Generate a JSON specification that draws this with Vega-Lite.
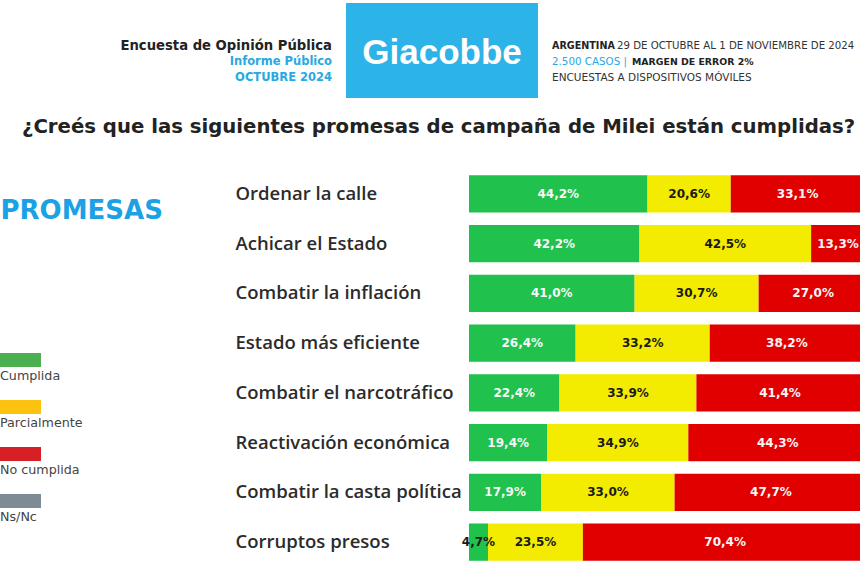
{
  "$schema": "https://vega.github.io/schema/vega-lite/v6.json",
  "autosize": "none",
  "width": 391,
  "height": 398,
  "padding": {"left": 469, "top": 169, "right": 0, "bottom": 3},
  "background": "#ffffff",
  "title": {
    "text": "¿Creés que las siguientes promesas de campaña de Milei están cumplidas?",
    "anchor": "start",
    "frame": "group",
    "dx": -447,
    "offset": -150,
    "baseline": "alphabetic",
    "font": "DejaVu Sans",
    "fontSize": 19.7,
    "fontWeight": "bold",
    "color": "#222222"
  },
  "datasets": {
    "encuesta": [
      {"promesa": "Ordenar la calle", "estado": "Cumplida", "pct": 44.2},
      {"promesa": "Ordenar la calle", "estado": "Parcialmente", "pct": 20.6},
      {"promesa": "Ordenar la calle", "estado": "No cumplida", "pct": 33.1},
      {"promesa": "Achicar el Estado", "estado": "Cumplida", "pct": 42.2},
      {"promesa": "Achicar el Estado", "estado": "Parcialmente", "pct": 42.5},
      {"promesa": "Achicar el Estado", "estado": "No cumplida", "pct": 13.3},
      {"promesa": "Combatir la inflación", "estado": "Cumplida", "pct": 41.0},
      {"promesa": "Combatir la inflación", "estado": "Parcialmente", "pct": 30.7},
      {"promesa": "Combatir la inflación", "estado": "No cumplida", "pct": 27.0},
      {"promesa": "Estado más eficiente", "estado": "Cumplida", "pct": 26.4},
      {"promesa": "Estado más eficiente", "estado": "Parcialmente", "pct": 33.2},
      {"promesa": "Estado más eficiente", "estado": "No cumplida", "pct": 38.2},
      {"promesa": "Combatir el narcotráfico", "estado": "Cumplida", "pct": 22.4},
      {"promesa": "Combatir el narcotráfico", "estado": "Parcialmente", "pct": 33.9},
      {"promesa": "Combatir el narcotráfico", "estado": "No cumplida", "pct": 41.4},
      {"promesa": "Reactivación económica", "estado": "Cumplida", "pct": 19.4},
      {"promesa": "Reactivación económica", "estado": "Parcialmente", "pct": 34.9},
      {"promesa": "Reactivación económica", "estado": "No cumplida", "pct": 44.3},
      {"promesa": "Combatir la casta política", "estado": "Cumplida", "pct": 17.9},
      {"promesa": "Combatir la casta política", "estado": "Parcialmente", "pct": 33.0},
      {"promesa": "Combatir la casta política", "estado": "No cumplida", "pct": 47.7},
      {"promesa": "Corruptos presos", "estado": "Cumplida", "pct": 4.7},
      {"promesa": "Corruptos presos", "estado": "Parcialmente", "pct": 23.5},
      {"promesa": "Corruptos presos", "estado": "No cumplida", "pct": 70.4}
    ],
    "cabecera": [
      {"pieza": "logo", "col": "G", "line": 0, "text": "Giacobbe"},
      {"pieza": "enc", "col": "L", "line": 1, "text": "Encuesta de Opinión Pública"},
      {"pieza": "inf", "col": "L", "line": 2, "text": "Informe Público"},
      {"pieza": "inf", "col": "L", "line": 3, "text": "OCTUBRE 2024"},
      {"pieza": "arg", "col": "R", "line": 1, "text": "ARGENTINA"},
      {"pieza": "fecha", "col": "R", "line": 1, "text": "29 DE OCTUBRE AL 1 DE NOVIEMBRE DE 2024"},
      {"pieza": "casos", "col": "R", "line": 2, "text": "2.500 CASOS |"},
      {"pieza": "margen", "col": "R", "line": 2, "text": "MARGEN DE ERROR 2%"},
      {"pieza": "disp", "col": "R", "line": 3, "text": "ENCUESTAS A DISPOSITIVOS MÓVILES"}
    ]
  },
  "layer": [
    {
      "data": {"name": "encuesta"},
      "transform": [{"calculate": "indexof(['Cumplida', 'Parcialmente', 'No cumplida'], datum.estado)", "as": "orden"}],
      "encoding": {
        "y": {
          "field": "promesa",
          "type": "nominal",
          "sort": null,
          "scale": {"paddingInner": 0.25, "paddingOuter": 0.125},
          "axis": {
            "title": "PROMESAS",
            "titleAngle": 0,
            "titleAlign": "left",
            "titleBaseline": "middle",
            "titleX": -469,
            "titleY": 41,
            "titleFont": "DejaVu Sans",
            "titleFontSize": 26,
            "titleFontWeight": "bold",
            "titleColor": "#1ba2e4",
            "labelAlign": "left",
            "labelPadding": 234,
            "labelFont": "Open Sans",
            "labelFontSize": 18.5,
            "labelFontWeight": 600,
            "labelColor": "#2b2b2b",
            "labelLimit": 320,
            "ticks": false,
            "domain": false,
            "grid": false
          }
        },
        "order": {"field": "orden", "type": "quantitative", "sort": "ascending"}
      },
      "layer": [
        {
          "mark": {"type": "bar", "clip": true},
          "encoding": {
            "x": {"field": "pct", "type": "quantitative", "stack": "zero", "scale": {"domain": [0, 96.8], "nice": false, "zero": true}, "axis": null},
            "color": {
              "field": "estado",
              "type": "nominal",
              "scale": {"domain": ["Cumplida", "Parcialmente", "No cumplida"], "range": ["#21c14e", "#f3eb00", "#e00000"]},
              "legend": null
            }
          }
        },
        {
          "mark": {"type": "text", "font": "DejaVu Sans", "fontSize": 12, "fontWeight": "bold", "align": "center", "baseline": "middle"},
          "transform": [{"calculate": "replace(format(datum.pct, '.1f'), '.', ',') + '%'", "as": "etiqueta"}],
          "encoding": {
            "x": {"field": "pct", "type": "quantitative", "stack": "zero", "bandPosition": 0.5, "scale": {"domain": [0, 96.8], "nice": false, "zero": true}, "axis": null},
            "text": {"field": "etiqueta", "type": "nominal"},
            "color": {
              "condition": {"test": "datum.pct < 10", "value": "#1a1a1a"},
              "field": "estado",
              "type": "nominal",
              "scale": {"domain": ["Cumplida", "Parcialmente", "No cumplida"], "range": ["#f7f7f7", "#1a1a1a", "#f7f7f7"]},
              "legend": null
            }
          }
        },
        {
          "mark": {"type": "point", "filled": true, "opacity": 0},
          "encoding": {
            "fill": {
              "field": "estado",
              "type": "nominal",
              "scale": {"domain": ["Cumplida", "Parcialmente", "No cumplida", "Ns/Nc"], "range": ["#4caf50", "#fdc210", "#d71f26", "#7d8b95"]},
              "legend": {
                "title": null,
                "orient": "none",
                "legendX": -469,
                "legendY": 197,
                "direction": "vertical",
                "padding": 0,
                "symbolType": "M-1,-2.3H3.1V-0.9H-1Z",
                "symbolSize": 400,
                "symbolOpacity": 1,
                "symbolStrokeWidth": 0,
                "labelOffset": -20,
                "labelFont": "DejaVu Sans",
                "labelFontSize": 12.7,
                "labelColor": "#444444",
                "labelLimit": 200,
                "rowPadding": 17
              }
            }
          }
        }
      ],
      "resolve": {"scale": {"color": "independent"}}
    },
    {
      "data": {"name": "cabecera"},
      "transform": [{"filter": "datum.pieza == 'logo'"}],
      "mark": {"type": "point", "filled": true, "opacity": 1, "size": 10000, "strokeWidth": 0, "shape": "M-1.92,-0.95H1.92V0.95H-1.92Z", "color": "#2cb3e8"},
      "encoding": {
        "x": {"field": "col", "type": "nominal", "scale": {"type": "point", "domain": ["L", "G", "R"], "range": [-137, 83], "padding": 0}, "axis": null},
        "y": {"field": "line", "type": "ordinal", "scale": {"type": "point", "domain": [0], "range": [-118.5, -118.5], "padding": 0}, "axis": null}
      }
    },
    {
      "data": {"name": "cabecera"},
      "transform": [{"filter": "datum.pieza == 'logo'"}],
      "mark": {"type": "text", "font": "Liberation Sans", "fontSize": 35, "fontWeight": "bold", "color": "#ffffff", "align": "center", "baseline": "middle", "dy": 2},
      "encoding": {
        "x": {"field": "col", "type": "nominal", "scale": {"type": "point", "domain": ["L", "G", "R"], "range": [-137, 83], "padding": 0}, "axis": null},
        "y": {"field": "line", "type": "ordinal", "scale": {"type": "point", "domain": [0], "range": [-118.5, -118.5], "padding": 0}, "axis": null},
        "text": {"field": "text", "type": "nominal"}
      }
    },
    {
      "data": {"name": "cabecera"},
      "transform": [{"filter": "datum.pieza == 'enc'"}],
      "mark": {"type": "text", "font": "DejaVu Sans", "fontSize": 13.2, "fontWeight": "bold", "color": "#222222", "align": "right", "baseline": "middle"},
      "encoding": {
        "x": {"field": "col", "type": "nominal", "scale": {"type": "point", "domain": ["L", "G", "R"], "range": [-137, 83], "padding": 0}, "axis": null},
        "y": {"field": "line", "type": "ordinal", "scale": {"type": "point", "domain": [1, 2, 3], "range": [-123.5, -91.5], "padding": 0}, "axis": null},
        "text": {"field": "text", "type": "nominal"}
      }
    },
    {
      "data": {"name": "cabecera"},
      "transform": [{"filter": "datum.pieza == 'inf'"}],
      "mark": {"type": "text", "font": "DejaVu Sans", "fontSize": 11.5, "fontWeight": "bold", "color": "#27a9e1", "align": "right", "baseline": "middle"},
      "encoding": {
        "x": {"field": "col", "type": "nominal", "scale": {"type": "point", "domain": ["L", "G", "R"], "range": [-137, 83], "padding": 0}, "axis": null},
        "y": {"field": "line", "type": "ordinal", "scale": {"type": "point", "domain": [1, 2, 3], "range": [-123.5, -91.5], "padding": 0}, "axis": null},
        "text": {"field": "text", "type": "nominal"}
      }
    },
    {
      "data": {"name": "cabecera"},
      "transform": [{"filter": "datum.pieza == 'arg'"}],
      "mark": {"type": "text", "font": "DejaVu Sans", "fontSize": 9.6, "fontWeight": "bold", "color": "#222222", "align": "left", "baseline": "middle"},
      "encoding": {
        "x": {"field": "col", "type": "nominal", "scale": {"type": "point", "domain": ["L", "G", "R"], "range": [-137, 83], "padding": 0}, "axis": null},
        "y": {"field": "line", "type": "ordinal", "scale": {"type": "point", "domain": [1, 2, 3], "range": [-123.5, -91.5], "padding": 0}, "axis": null},
        "text": {"field": "text", "type": "nominal"}
      }
    },
    {
      "data": {"name": "cabecera"},
      "transform": [{"filter": "datum.pieza == 'margen'"}],
      "mark": {"type": "text", "font": "DejaVu Sans", "fontSize": 9.4, "fontWeight": "bold", "color": "#222222", "align": "left", "baseline": "middle", "dx": 80},
      "encoding": {
        "x": {"field": "col", "type": "nominal", "scale": {"type": "point", "domain": ["L", "G", "R"], "range": [-137, 83], "padding": 0}, "axis": null},
        "y": {"field": "line", "type": "ordinal", "scale": {"type": "point", "domain": [1, 2, 3], "range": [-123.5, -91.5], "padding": 0}, "axis": null},
        "text": {"field": "text", "type": "nominal"}
      }
    },
    {
      "data": {"name": "cabecera"},
      "transform": [{"filter": "datum.pieza == 'fecha'"}],
      "mark": {"type": "text", "font": "DejaVu Sans", "fontSize": 10.2, "color": "#333333", "align": "left", "baseline": "middle", "dx": 65},
      "encoding": {
        "x": {"field": "col", "type": "nominal", "scale": {"type": "point", "domain": ["L", "G", "R"], "range": [-137, 83], "padding": 0}, "axis": null},
        "y": {"field": "line", "type": "ordinal", "scale": {"type": "point", "domain": [1, 2, 3], "range": [-123.5, -91.5], "padding": 0}, "axis": null},
        "text": {"field": "text", "type": "nominal"}
      }
    },
    {
      "data": {"name": "cabecera"},
      "transform": [{"filter": "datum.pieza == 'disp'"}],
      "mark": {"type": "text", "font": "DejaVu Sans", "fontSize": 10.5, "color": "#333333", "align": "left", "baseline": "middle"},
      "encoding": {
        "x": {"field": "col", "type": "nominal", "scale": {"type": "point", "domain": ["L", "G", "R"], "range": [-137, 83], "padding": 0}, "axis": null},
        "y": {"field": "line", "type": "ordinal", "scale": {"type": "point", "domain": [1, 2, 3], "range": [-123.5, -91.5], "padding": 0}, "axis": null},
        "text": {"field": "text", "type": "nominal"}
      }
    },
    {
      "data": {"name": "cabecera"},
      "transform": [{"filter": "datum.pieza == 'casos'"}],
      "mark": {"type": "text", "font": "DejaVu Sans", "fontSize": 10.3, "color": "#27a9e1", "align": "left", "baseline": "middle"},
      "encoding": {
        "x": {"field": "col", "type": "nominal", "scale": {"type": "point", "domain": ["L", "G", "R"], "range": [-137, 83], "padding": 0}, "axis": null},
        "y": {"field": "line", "type": "ordinal", "scale": {"type": "point", "domain": [1, 2, 3], "range": [-123.5, -91.5], "padding": 0}, "axis": null},
        "text": {"field": "text", "type": "nominal"}
      }
    }
  ],
  "resolve": {"scale": {"x": "independent", "y": "independent"}},
  "config": {"view": {"stroke": null}, "axis": {"grid": false}}
}
